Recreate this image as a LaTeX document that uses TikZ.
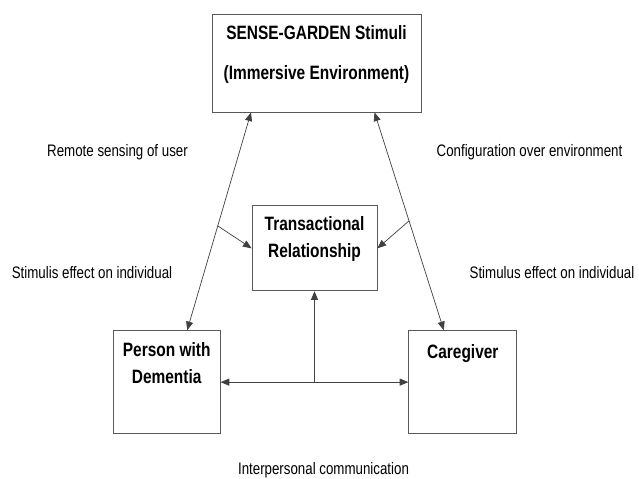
\documentclass[tikz,border=0pt]{standalone}
\usepackage{fontspec}
\setmainfont{Liberation Sans}[FakeStretch=0.8]
\usetikzlibrary{arrows.meta, positioning}

\begin{document}
\begin{tikzpicture}[
    box/.style={rectangle, draw=black!65, line width=0.7pt, inner sep=0pt},
    boxtext/.style={anchor=north, inner sep=0pt, align=center, font=\fontsize{16.5}{23}\selectfont\bfseries},
    lbl/.style={anchor=base, inner sep=0pt, font=\fontsize{14.2}{16}\selectfont},
    arrow/.style={-{Triangle[length=0.26cm, width=0.21cm]}, line width=0.6pt, draw=black!75},
    dblarrow/.style={{Triangle[length=0.26cm, width=0.21cm]}-{Triangle[length=0.26cm, width=0.21cm]}, line width=0.6pt, draw=black!75}
]
\useasboundingbox (0,0) rectangle (19.17,14.34);

\node[box, minimum width=6.27cm, minimum height=2.94cm] (stimuli) at (9.495,12.45) {};
\node[boxtext, font=\fontsize{16.5}{34}\selectfont\bfseries] (stimulitext) at ([yshift=-0.35cm]stimuli.north) {SENSE-GARDEN Stimuli\\(Immersive Environment)};

\node[box, minimum width=3.75cm, minimum height=2.55cm, below=2.79cm of stimuli, xshift=-0.06cm] (trans) {};
\node[boxtext] (transtext) at ([yshift=-0.34cm]trans.north) {Transactional\\Relationship};

\node[box, minimum width=3.21cm, minimum height=3.09cm, below left=1.17cm and 0.93cm of trans] (pwd) {};
\node[boxtext] (pwdtext) at ([yshift=-0.35cm]pwd.north) {Person with\\Dementia};

\node[box, minimum width=3.24cm, minimum height=3.09cm, below right=1.17cm and 0.93cm of trans] (carer) {};
\node[boxtext] (carertext) at ([yshift=-0.42cm]carer.north) {Caregiver};

\coordinate (pwdtop) at ([xshift=0.615cm]pwd.north);
\coordinate (stimleft) at ([xshift=-1.965cm]stimuli.south);
\coordinate (carertop) at ([xshift=-0.57cm]carer.north);
\coordinate (stimright) at ([xshift=1.74cm]stimuli.south);
\coordinate (mid) at (trans.south |- pwd.east);

\draw[dblarrow] (pwdtop) -- coordinate[pos=0.479] (lbranch) (stimleft);
\draw[dblarrow] (carertop) -- coordinate[pos=0.502] (rbranch) (stimright);
\draw[arrow] (lbranch) -- (trans.west);
\draw[arrow] (rbranch) -- (trans.east);
\draw[dblarrow] (pwd.east) -- (carer.west);
\draw[arrow] (mid) -- (trans.south);

\node[lbl] (remote) at (3.525,9.63) {Remote sensing of user};
\node[lbl] (config) at (15.885,9.63) {Configuration over environment};
\node[lbl] (effectpwd) at (2.76,6.0) {Stimulis effect on individual};
\node[lbl] (effectcarer) at (16.56,6.0) {Stimulus effect on individual};
\node[lbl] (comm) at (9.705,0.12) {Interpersonal communication};

\end{tikzpicture}
\end{document}
